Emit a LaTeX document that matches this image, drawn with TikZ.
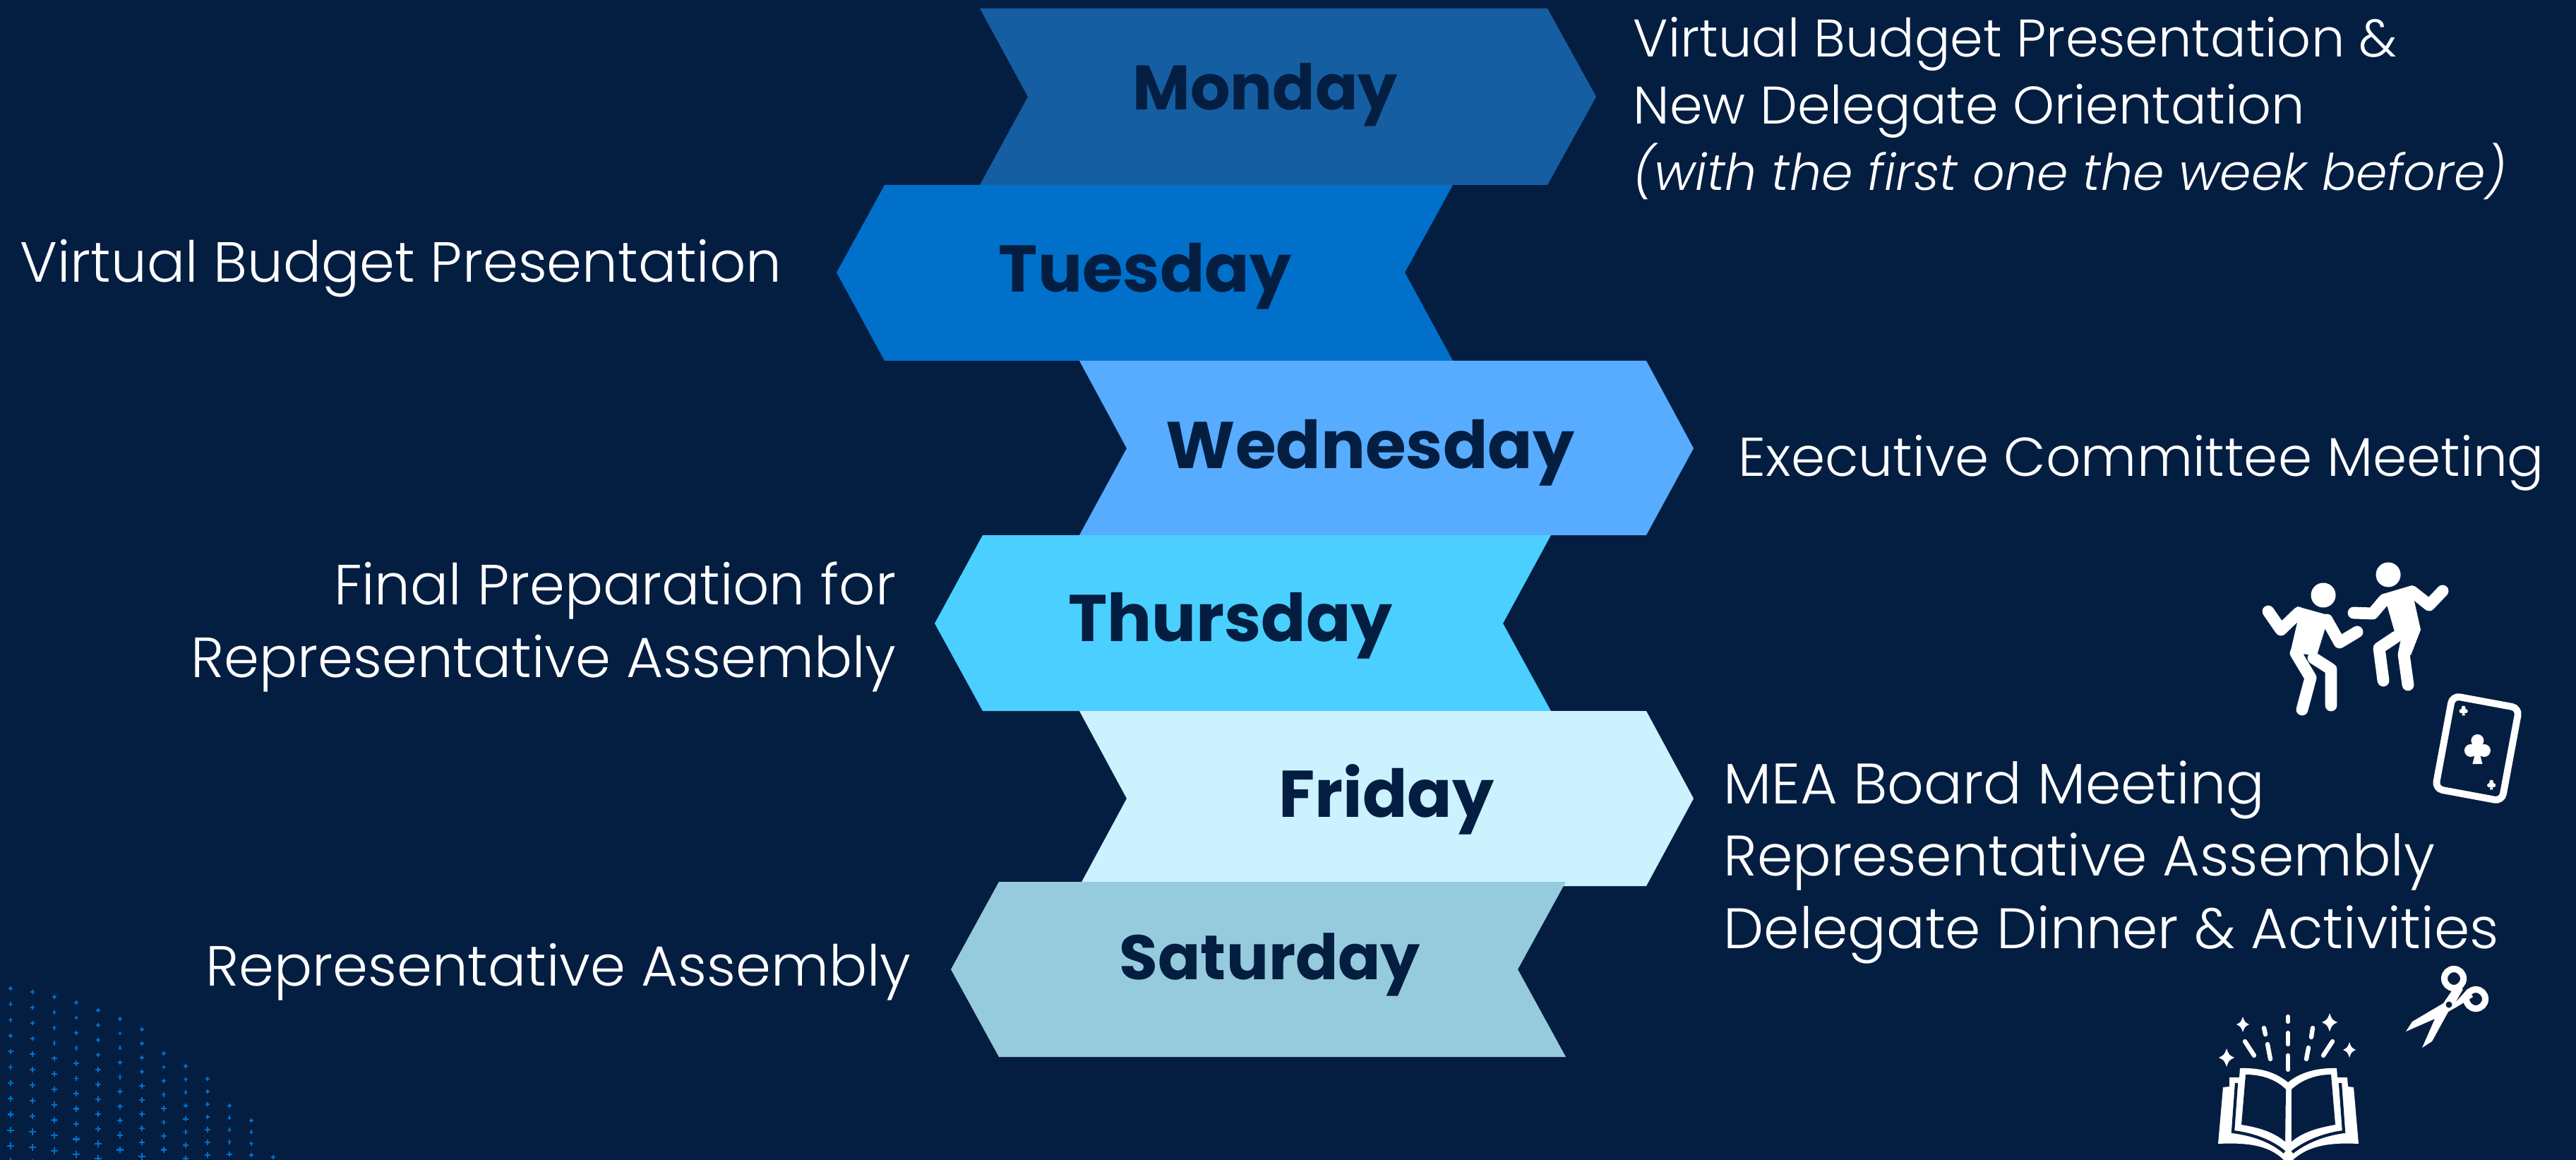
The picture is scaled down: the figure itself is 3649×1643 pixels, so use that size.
\documentclass[tikz,border=0pt]{standalone}
\usepackage{fontspec}
\setmainfont{Poppins}[UprightFont=* Light,ItalicFont=* Light Italic,BoldFont=* Bold]
\usetikzlibrary{positioning}

\definecolor{navybg}{HTML}{041E42}
\definecolor{mondayfill}{HTML}{155EA1}
\definecolor{tuesdayfill}{HTML}{0070CA}
\definecolor{wednesdayfill}{HTML}{57ACFF}
\definecolor{thursdayfill}{HTML}{4ACFFF}
\definecolor{fridayfill}{HTML}{CCF1FF}
\definecolor{saturdayfill}{HTML}{95CBDD}
\definecolor{plusblue}{HTML}{0070CC}

\tikzset{
    daylabel/.style={anchor=base, text=navybg, font=\bfseries\fontsize{#1}{30}\selectfont},
    daylabel/.default=26.6,
    infotext/.style={text=white, inner sep=0pt, font=\fontsize{#1}{29.1}\selectfont},
    infotext/.default=22.8,
    limb/.style={draw=white, line width=4.8pt, line cap=round, line join=round},
    ray/.style={draw=white, line width=1.8pt, line cap=round},
    sparkle/.pic={\fill[white] (0,-1) .. controls (0.3,-0.3) .. (1,0) .. controls (0.3,0.3) .. (0,1)
        .. controls (-0.3,0.3) .. (-1,0) .. controls (-0.3,-0.3) .. cycle;},
    clubpip/.pic={\fill[white] (0,-9) circle[radius=9] (-9.5,5) circle[radius=9] (9.5,5) circle[radius=9]
        (0,3) circle[radius=6] (-2,4) -- (2,4) -- (7,24) -- (-7,24) -- cycle;}
}

\begin{document}
\begin{tikzpicture}[x=0.01cm, y=-0.01cm]
    \clip (0,0) rectangle (3649,1643);
    \fill[navybg] (0,0) rectangle (3649,1643);

    % corner pattern
    \foreach \cx/\cy/\gap [count=\c] in {15/1400/22.3, 46/1405/22, 77/1412/21.8, 108/1420/21.5, 139/1431/21,
            170/1443/20.6, 201/1458/20, 232/1492/19.5, 263/1510/18.7, 294/1528/18, 325/1566/17.2,
            356/1587/16.3, 387/1639/15} {
        \pgfmathtruncatemacro{\rows}{(1650-\cy)/\gap}
        \foreach \r in {0,...,\rows} {
            \pgfmathsetmacro{\py}{\cy+\r*\gap}
            \pgfmathsetmacro{\arm}{2.6+0.23*\r}
            \draw[plusblue, line width=0.3pt+0.04pt*\r] (\cx-\arm,\py) -- (\cx+\arm,\py) (\cx,\py-\arm) -- (\cx,\py+\arm);
        }
    }

    % day chevrons
    \fill[mondayfill] (1388,12) -- (1456,137) -- (1388,262) -- (2192,262) -- (2261,137) -- (2192,12) -- cycle;
    \fill[tuesdayfill] (1253,262) -- (1185,386) -- (1253,511) -- (2058,511) -- (1990,386) -- (2058,262) -- cycle;
    \fill[wednesdayfill] (1529,511) -- (1596,635) -- (1529,758) -- (2332,758) -- (2399,635) -- (2332,511) -- cycle;
    \fill[thursdayfill] (1392,758) -- (1324,883) -- (1392,1007) -- (2197,1007) -- (2129,883) -- (2197,758) -- cycle;
    \fill[fridayfill] (1529,1007) -- (1596,1131) -- (1529,1255) -- (2332,1255) -- (2399,1131) -- (2332,1007) -- cycle;
    \fill[saturdayfill] (1415,1249) -- (1347,1373) -- (1415,1497) -- (2218,1497) -- (2150,1373) -- (2218,1249) -- cycle;

    \node[daylabel=25.3] (monday) at (1792,156) {Monday};
    \node[daylabel] (tuesday) at (1622,414) {Tuesday};
    \node[daylabel] (wednesday) at (1941,663) {Wednesday};
    \node[daylabel] (thursday) at (1743,908) {Thursday};
    \node[daylabel] (friday) at (1964,1157) {Friday};
    \node[daylabel=25.3] (saturday) at (1799,1387) {Saturday};

    \node[infotext, font=\fontsize{21.3}{27}\selectfont, anchor=base west, align=left] (mondayinfo) at (2313,270)
        {Virtual Budget Presentation \&\\New Delegate Orientation\\\fontsize{20.3}{27}\selectfont\textit{(with the first one the week before)}};
    \node[infotext, anchor=base west] (tuesdayinfo) at (28,400) {Virtual Budget Presentation};
    \node[infotext=22, anchor=base west] (wednesdayinfo) at (2462,675) {Executive Committee Meeting};
    \node[infotext, anchor=base east, align=right] (thursdayinfo) at (1270,959)
        {Final Preparation for\\Representative Assembly};
    \node[infotext=23, anchor=base west, align=left] (fridayinfo) at (2441,1343)
        {MEA Board Meeting\\Representative Assembly\\Delegate Dinner \& Activities};
    \node[infotext, anchor=base east] (saturdayinfo) at (1291,1396) {Representative Assembly};

    % dancers
    \fill[white] (3291,843) circle[radius=17.5] (3383,814) circle[radius=17.5];
    \fill[white] (3254,859) -- (3301,872) -- (3293,892) -- (3282,928) -- (3244,925) -- (3254,882) -- cycle;
    \draw[limb] (3213,866) -- (3231,892) -- (3256,868);
    \draw[limb] (3296,878) -- (3314,910) -- (3339,895);
    \draw[limb] (3252,925) -- (3273,960) -- (3261,1005);
    \draw[limb] (3277,932) -- (3302,948) -- (3302,999);
    \fill[white] (3373,842) -- (3417,829) -- (3420,852) -- (3429,892) -- (3415,928) -- (3398,923) -- (3403,910)
        -- (3392,895) -- (3382,860) -- cycle;
    \draw[limb] (3334,868) -- (3361,869) -- (3377,850);
    \draw[limb] (3417,838) -- (3441,857) -- (3460,837);
    \draw[limb] (3394,902) -- (3370,918) -- (3376,964);
    \draw[limb] (3410,903) -- (3405,927) -- (3411,970);

    % card
    \begin{scope}[shift={(3509,1060)}, rotate=-10.5]
        \draw[white, line width=2.8pt, rounded corners=3pt] (-48,-67) rectangle (48,67);
        \pic at (0,-2) {clubpip};
        \pic[scale=0.33] at (-29,-50) {clubpip};
        \pic[scale=0.33] at (29,46) {clubpip};
    \end{scope}

    % scissors
    \fill[white] (3408,1461) -- (3417,1447) -- (3461,1421) -- (3478,1396) -- (3489,1401) -- (3478,1420)
        -- (3496,1400) -- (3503,1412) -- (3482,1425) -- (3468,1433) -- (3445,1475) -- (3431,1484)
        -- (3449,1443) -- cycle;
    \draw[white, line width=2.6pt] (3476,1386) circle[radius=13.5] (3507,1415) circle[radius=13.5];
    \fill[navybg] (3469,1423) circle[radius=4.5];

    % book
    \fill[white] (3142,1620) -- (3149,1540) -- (3158,1539) -- (3158,1526) -- (3172,1526) -- (3173,1513)
        .. controls (3205,1512) and (3225,1520) .. (3241,1533)
        .. controls (3257,1520) and (3280,1512) .. (3310,1513)
        -- (3311,1526) -- (3325,1526) -- (3326,1539) -- (3334,1540) -- (3341,1620)
        .. controls (3300,1618) and (3265,1622) .. (3241,1650)
        .. controls (3220,1622) and (3185,1618) .. (3142,1620) -- cycle;
    \fill[navybg] (3181,1522) .. controls (3205,1522) and (3225,1530) .. (3238,1543) -- (3237,1617)
        .. controls (3220,1603) and (3200,1597) .. (3175,1593) -- cycle;
    \fill[navybg] (3302,1522) .. controls (3280,1522) and (3260,1530) .. (3246,1543) -- (3246,1617)
        .. controls (3262,1603) and (3285,1597) .. (3308,1593) -- cycle;
    \draw[navybg, line width=1.2pt] (3168,1534) -- (3163,1603) .. controls (3195,1607) and (3220,1618) .. (3236,1632);
    \draw[navybg, line width=1.2pt] (3315,1534) -- (3320,1603) .. controls (3290,1607) and (3265,1618) .. (3247,1632);

    \draw[ray] (3241,1440) -- (3241,1447) (3241,1463) -- (3241,1479) (3241,1495) -- (3241,1515);
    \draw[ray] (3207,1456) -- (3209,1465) (3212,1479) -- (3216,1500) (3180,1475) -- (3193,1495);
    \draw[ray] (3276,1456) -- (3274,1469) (3270,1484) -- (3267,1500) (3304,1475) -- (3291,1495);
    \pic[xscale=9, yscale=11] at (3177,1451) {sparkle};
    \pic[xscale=11, yscale=13] at (3300,1448) {sparkle};
    \pic[xscale=11, yscale=13] at (3154,1498) {sparkle};
    \pic[xscale=9, yscale=11] at (3328,1487) {sparkle};
\end{tikzpicture}
\end{document}
